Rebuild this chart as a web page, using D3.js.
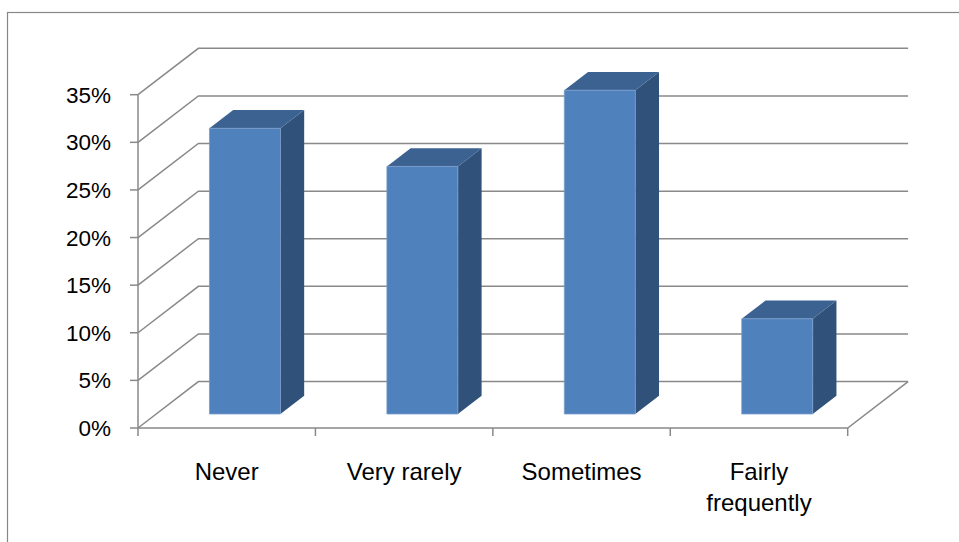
<!DOCTYPE html>
<html>
<head>
<meta charset="utf-8">
<script src="https://cdn.jsdelivr.net/npm/d3@7"></script>
<style>
  html, body { margin: 0; padding: 0; background: #fff; }
  svg { display: block; }
  text { font-family: "Liberation Sans", Arial, sans-serif; fill: #000; }
</style>
</head>
<body>
<svg id="chart" width="959" height="542"></svg>
<script>
// Survey response shares
const categories = ["Never", "Very rarely", "Sometimes", "Fairly frequently"];
const values = [0.30, 0.26, 0.34, 0.10];
const yTicks = [0, 0.05, 0.10, 0.15, 0.20, 0.25, 0.30, 0.35];

const svg = d3.select("#chart");

// Oblique 3D projection: depth fraction d in [0,1] shifts right and up
const depthDX = 60.4, depthDY = -46.4;
const frontLeft = 138, frontRight = 847.7;
const y = d3.scaleLinear().domain([0, 0.35]).range([428, 94.7]);
const xCat = d3.scaleBand().domain(categories).range([frontLeft, frontRight]).padding(0);
const xBar = d3.scaleBand().domain(categories).range([frontLeft, frontRight])
  .paddingInner(0.6).paddingOuter(0.3);
const P = (x, v, d) => [x + d * depthDX, y(v) + d * depthDY];
const pathOf = pts => "M" + pts.map(p => p.join(",")).join("L") + "Z";

const gridColor = "#898989";

// chart area border
svg.append("rect")
  .attr("x", 7.5).attr("y", 12.5).attr("width", 1000).attr("height", 700)
  .attr("fill", "none").attr("stroke", "#878787").attr("stroke-width", 1.2);

const grid = svg.append("g").attr("fill", "none").attr("stroke", gridColor).attr("stroke-width", 1.5);

// back wall gridlines and side wall gridlines
yTicks.forEach(v => {
  const a = P(frontLeft, v, 0), b = P(frontLeft, v, 1), c = P(frontRight, v, 1);
  grid.append("path").attr("d", `M${a}L${b}L${c}`);
});

// floor: right edge and front edge
{
  const b = P(frontRight, 0, 1), f = P(frontRight, 0, 0), l = P(frontLeft, 0, 0);
  grid.append("path").attr("d", `M${b}L${f}L${l}`);
}

// value axis
svg.append("line")
  .attr("x1", frontLeft).attr("x2", frontLeft)
  .attr("y1", y(0.35)).attr("y2", y(0))
  .attr("stroke", gridColor).attr("stroke-width", 1.5);
yTicks.forEach(v => {
  svg.append("line")
    .attr("x1", frontLeft - 8).attr("x2", frontLeft)
    .attr("y1", y(v)).attr("y2", y(v))
    .attr("stroke", gridColor).attr("stroke-width", 1.5);
  svg.append("text")
    .attr("x", 111).attr("y", y(v))
    .attr("dy", "0.36em")
    .attr("text-anchor", "end")
    .attr("font-size", 22.5)
    .text(d3.format(".0%")(v));
});

// category axis ticks
const catEdges = categories.map(c => xCat(c)).concat([frontRight]);
catEdges.forEach(x => {
  svg.append("line")
    .attr("x1", x).attr("x2", x)
    .attr("y1", y(0)).attr("y2", y(0) + 8)
    .attr("stroke", gridColor).attr("stroke-width", 1.5);
});

// category labels
const labelLines = {
  "Never": ["Never"],
  "Very rarely": ["Very rarely"],
  "Sometimes": ["Sometimes"],
  "Fairly frequently": ["Fairly", "frequently"]
};
categories.forEach(c => {
  const cx = xCat(c) + xCat.bandwidth() / 2;
  const t = svg.append("text")
    .attr("x", cx)
    .attr("y", 480)
    .attr("text-anchor", "middle")
    .attr("font-size", 24);
  labelLines[c].forEach((s, i) => {
    t.append("tspan")
      .attr("x", cx)
      .attr("dy", i === 0 ? 0 : 31)
      .text(s);
  });
});

// 3D columns
const d0 = 0.302, d1 = 0.695;
const bars = svg.append("g");
categories.forEach((c, i) => {
  const v = values[i];
  const xl = xBar(c), xr = xBar(c) + xBar.bandwidth();
  const g = bars.append("g");
  // side face
  g.append("path")
    .attr("d", pathOf([P(xr, 0, d0), P(xr, 0, d1), P(xr, v, d1), P(xr, v, d0)]))
    .attr("fill", "#30527A");
  // top face
  g.append("path")
    .attr("d", pathOf([P(xl, v, d0), P(xr, v, d0), P(xr, v, d1), P(xl, v, d1)]))
    .attr("fill", "#3B6290");
  // front face
  g.append("path")
    .attr("d", pathOf([P(xl, 0, d0), P(xr, 0, d0), P(xr, v, d0), P(xl, v, d0)]))
    .attr("fill", "#4F81BD")
    .attr("stroke", "#7A9CCB").attr("stroke-width", 0.8);
});
</script>
</body>
</html>
